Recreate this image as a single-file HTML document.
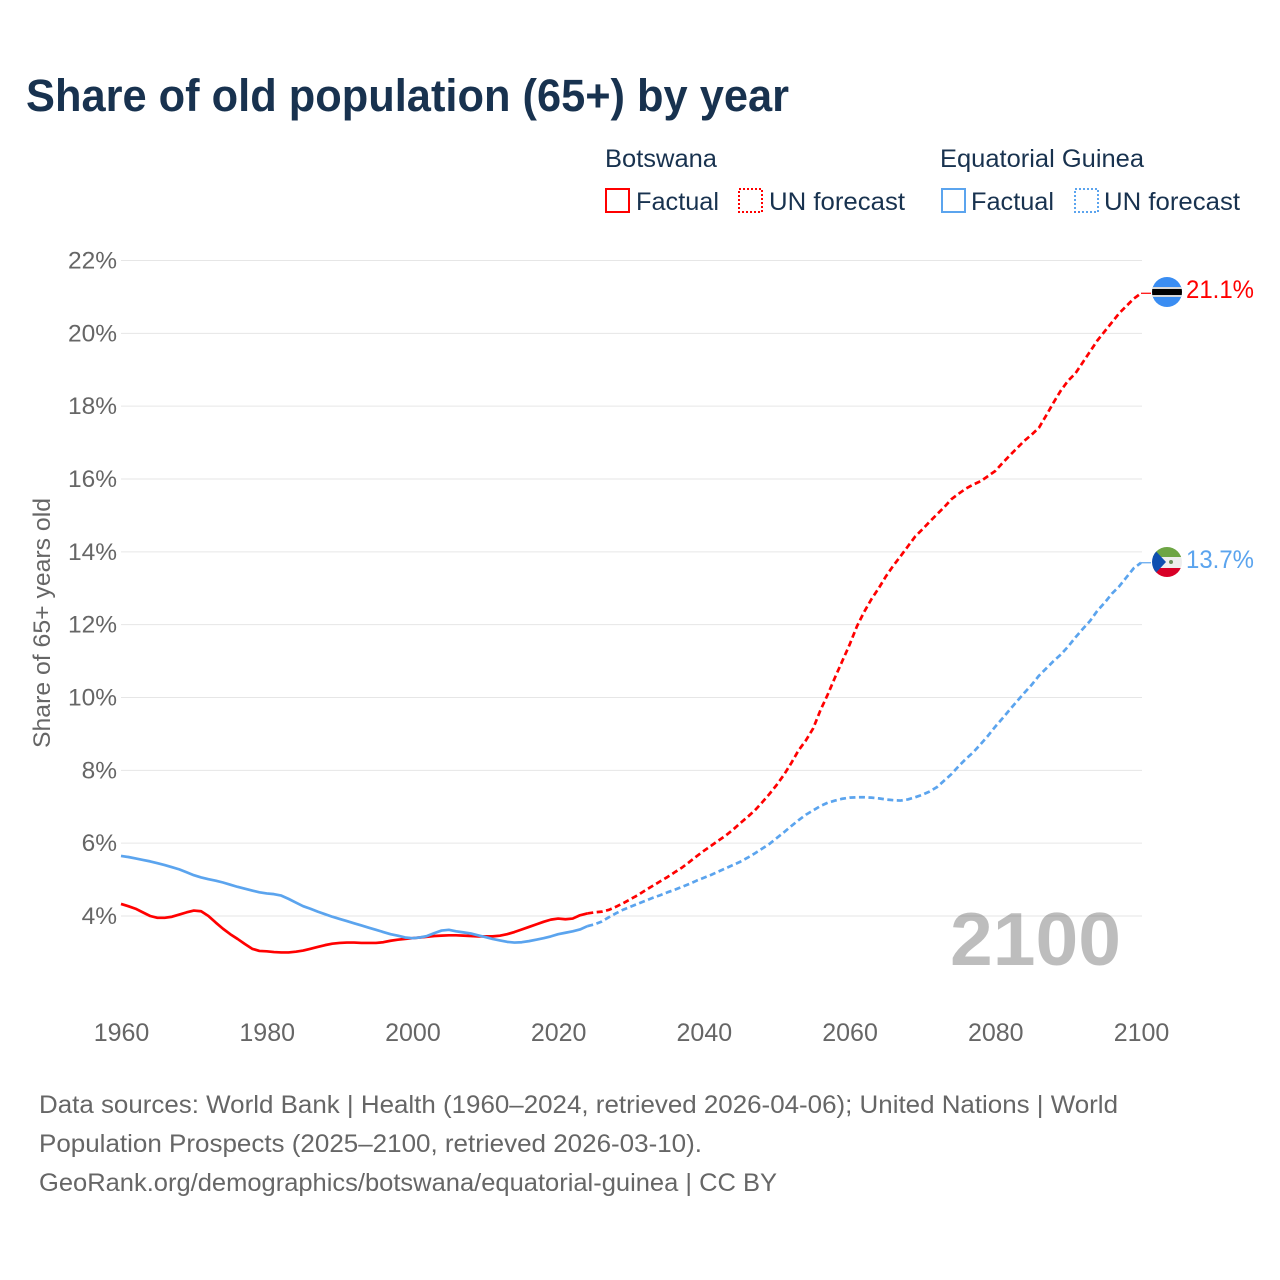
<!DOCTYPE html>
<html lang="en">
<head>
<meta charset="utf-8">
<title>Share of old population (65+) by year</title>
<style>
html,body{margin:0;padding:0;background:#fff;}
svg{display:block;font-family:"Liberation Sans",Arial,sans-serif;}
</style>
</head>
<body>
<svg id="chart" width="1280" height="1280" viewBox="0 0 1280 1280" xmlns="http://www.w3.org/2000/svg">
  <rect width="1280" height="1280" fill="#fff"/>
  <defs>
    <clipPath id="clip-bw"><circle cx="1167" cy="292" r="15"/></clipPath>
    <clipPath id="clip-gq"><circle cx="1167" cy="562" r="15"/></clipPath>
  </defs>

  <text x="26" y="111" font-size="45" font-weight="700" fill="#18324f" textLength="763" lengthAdjust="spacingAndGlyphs">Share of old population (65+) by year</text>

  <g font-size="25" fill="#18324f">
    <text x="605" y="167" textLength="112" lengthAdjust="spacingAndGlyphs">Botswana</text>
    <rect x="606" y="189" width="23" height="23" fill="none" stroke="#ff0000" stroke-width="2"/>
    <text x="636" y="210" textLength="83" lengthAdjust="spacingAndGlyphs">Factual</text>
    <rect x="739" y="189" width="23" height="23" fill="none" stroke="#ff0000" stroke-width="2" stroke-dasharray="2 2"/>
    <text x="769" y="210" textLength="136" lengthAdjust="spacingAndGlyphs">UN forecast</text>

    <text x="940" y="167" textLength="204" lengthAdjust="spacingAndGlyphs">Equatorial Guinea</text>
    <rect x="942" y="189" width="23" height="23" fill="none" stroke="#5ba4ee" stroke-width="2"/>
    <text x="971" y="210" textLength="83" lengthAdjust="spacingAndGlyphs">Factual</text>
    <rect x="1075" y="189" width="23" height="23" fill="none" stroke="#5ba4ee" stroke-width="2" stroke-dasharray="2 2"/>
    <text x="1104" y="210" textLength="136" lengthAdjust="spacingAndGlyphs">UN forecast</text>
  </g>

  <g id="grid"></g>
  <text x="950" y="965" font-size="75" font-weight="700" fill="#000" fill-opacity="0.26" textLength="171" lengthAdjust="spacingAndGlyphs">2100</text>
  <g id="y-ticks" font-size="24.5" fill="#666"></g>
  <g id="x-ticks" font-size="25" fill="#666"></g>
  <text transform="translate(50,748) rotate(-90)" font-size="24" fill="#666" textLength="250" lengthAdjust="spacingAndGlyphs">Share of 65+ years old</text>

  <g id="series"></g>

  <g clip-path="url(#clip-bw)">
    <rect x="1150" y="275" width="34" height="34" fill="#3a8df2"/>
    <rect x="1150" y="287" width="34" height="10" fill="#d8d8d8"/>
    <rect x="1150" y="289" width="34" height="6" fill="#000"/>
  </g>
  <text x="1186" y="298" font-size="25" fill="#ff0000" textLength="68" lengthAdjust="spacingAndGlyphs">21.1%</text>

  <g clip-path="url(#clip-gq)">
    <rect x="1150" y="545" width="34" height="12" fill="#6da544"/>
    <rect x="1150" y="557" width="34" height="11" fill="#eeeeee"/>
    <rect x="1150" y="568" width="34" height="11" fill="#d80027"/>
    <polygon points="1150,545 1152,547 1166,562 1152,577 1150,579" fill="#0f4fb0"/>
    <circle cx="1171" cy="562" r="2" fill="#6a8f5a"/>
  </g>
  <text x="1186" y="568" font-size="25" fill="#5ba4ee" textLength="68" lengthAdjust="spacingAndGlyphs">13.7%</text>

  <g font-size="25" fill="#666">
    <text x="39" y="1113" textLength="1079" lengthAdjust="spacingAndGlyphs">Data sources: World Bank | Health (1960–2024, retrieved 2026-04-06); United Nations | World</text>
    <text x="39" y="1152" textLength="663" lengthAdjust="spacingAndGlyphs">Population Prospects (2025–2100, retrieved 2026-03-10).</text>
    <text x="39" y="1191" textLength="738" lengthAdjust="spacingAndGlyphs">GeoRank.org/demographics/botswana/equatorial-guinea | CC BY</text>
  </g>
</svg>
<script>
const yTickValues = [4, 6, 8, 10, 12, 14, 16, 18, 20, 22];
const xTickValues = [1960, 1980, 2000, 2020, 2040, 2060, 2080, 2100];
const factualStartYear = 1960;
const forecastStartYear = 2024;
const botswanaFactual = [
  4.33,4.27,4.2,4.1,4.0,3.95,3.95,3.98,4.04,4.1,
  4.15,4.13,4.0,3.82,3.65,3.5,3.37,3.23,3.1,3.04,
  3.03,3.01,3.0,3.0,3.02,3.05,3.1,3.15,3.2,3.24,
  3.26,3.27,3.27,3.26,3.26,3.26,3.28,3.32,3.35,3.37,
  3.39,3.41,3.43,3.45,3.46,3.47,3.47,3.46,3.45,3.44,
  3.44,3.44,3.46,3.5,3.56,3.63,3.7,3.77,3.84,3.9,
  3.93,3.91,3.93,4.02,4.07
];
const botswanaForecast = [
  4.07,4.1,4.12,4.17,4.26,4.36,4.47,4.58,4.71,4.83,
  4.95,5.07,5.2,5.33,5.48,5.64,5.79,5.93,6.07,6.21,
  6.37,6.55,6.72,6.9,7.12,7.35,7.6,7.88,8.2,8.55,
  8.82,9.15,9.65,10.08,10.55,11.0,11.45,11.95,12.35,12.7,
  13.0,13.33,13.62,13.88,14.15,14.42,14.62,14.83,15.03,15.23,
  15.45,15.6,15.74,15.85,15.94,16.08,16.22,16.44,16.65,16.85,
  17.05,17.22,17.41,17.75,18.1,18.43,18.7,18.9,19.2,19.5,
  19.8,20.05,20.3,20.55,20.75,20.95,21.1
];
const guineaFactual = [
  5.65,5.62,5.58,5.54,5.5,5.45,5.4,5.34,5.28,5.2,
  5.12,5.06,5.01,4.97,4.92,4.86,4.8,4.75,4.7,4.65,
  4.62,4.6,4.56,4.47,4.37,4.27,4.2,4.12,4.05,3.98,
  3.92,3.86,3.8,3.74,3.68,3.62,3.56,3.5,3.46,3.41,
  3.39,3.41,3.45,3.53,3.6,3.62,3.58,3.55,3.52,3.47,
  3.42,3.37,3.33,3.29,3.27,3.28,3.31,3.35,3.39,3.44,
  3.5,3.54,3.58,3.63,3.72
];
const guineaForecast = [
  3.72,3.77,3.85,3.97,4.08,4.18,4.26,4.34,4.42,4.5,
  4.57,4.65,4.72,4.8,4.88,4.97,5.05,5.13,5.22,5.31,
  5.4,5.49,5.6,5.72,5.85,5.98,6.14,6.3,6.47,6.63,
  6.78,6.9,7.02,7.11,7.17,7.22,7.25,7.26,7.26,7.25,
  7.23,7.2,7.18,7.17,7.2,7.26,7.33,7.42,7.54,7.72,
  7.9,8.12,8.32,8.5,8.72,8.95,9.2,9.43,9.67,9.9,
  10.13,10.35,10.6,10.8,11.0,11.18,11.4,11.65,11.88,12.1,
  12.38,12.6,12.85,13.05,13.3,13.55,13.7
];

const NS = 'http://www.w3.org/2000/svg';
function xScale(year) { return 121 + (year - 1960) * (1141 - 121) / 140; }
function yScale(v) { return 916 - (v - 4) * (916 - 260.5) / 18; }

const gridGroup = document.getElementById('grid');
const yTickGroup = document.getElementById('y-ticks');
yTickValues.forEach(function (v) {
  const line = document.createElementNS(NS, 'line');
  
  
  line.setAttribute('x1', 121);
  line.setAttribute('x2', 1142);
  line.setAttribute('y1', yScale(v));
  line.setAttribute('y2', yScale(v));
  line.setAttribute('stroke', '#e6e6e6');
  line.setAttribute('stroke-width', 1);
  gridGroup.appendChild(line);
  const t = document.createElementNS(NS, 'text');
  
  
  t.setAttribute('x', 117);
  t.setAttribute('y', yScale(v) + 8);
  t.setAttribute('text-anchor', 'end');
  t.textContent = v + '%';
  yTickGroup.appendChild(t);
});

const xTickGroup = document.getElementById('x-ticks');
xTickValues.forEach(function (year) {
  const t = document.createElementNS(NS, 'text');
  
  
  t.setAttribute('x', xScale(year) + 0.5);
  t.setAttribute('y', 1041);
  t.setAttribute('text-anchor', 'middle');
  t.textContent = year;
  xTickGroup.appendChild(t);
});

function pathFrom(values, startYear) {
  return values.map(function (v, i) {
    return (i ? 'L' : 'M') + xScale(startYear + i).toFixed(2) + ' ' + yScale(v).toFixed(2);
  }).join(' ');
}

const seriesGroup = document.getElementById('series');
function drawLine(values, startYear, color, dashed, name) {
  const p = document.createElementNS(NS, 'path');
  
  
  p.setAttribute('d', pathFrom(values, startYear));
  p.setAttribute('fill', 'none');
  p.setAttribute('stroke', color);
  p.setAttribute('stroke-width', 2.7);
  p.setAttribute('stroke-linejoin', 'round');
  if (dashed) { p.setAttribute('stroke-dasharray', '6 3.5'); }
  seriesGroup.appendChild(p);
}
function drawConnector(lastValue, color, name) {
  const c = document.createElementNS(NS, 'line');
  
  
  c.setAttribute('x1', xScale(2100));
  c.setAttribute('x2', xScale(2100) + 10);
  c.setAttribute('y1', yScale(lastValue));
  c.setAttribute('y2', yScale(lastValue));
  c.setAttribute('stroke', color);
  c.setAttribute('stroke-width', 1.2);
  seriesGroup.appendChild(c);
}
drawLine(botswanaForecast, forecastStartYear, '#ff0000', true, 'botswana-forecast-line');
drawLine(botswanaFactual, factualStartYear, '#ff0000', false, 'botswana-factual-line');
drawLine(guineaForecast, forecastStartYear, '#5ba4ee', true, 'guinea-forecast-line');
drawLine(guineaFactual, factualStartYear, '#5ba4ee', false, 'guinea-factual-line');
drawConnector(botswanaForecast[botswanaForecast.length - 1], '#ff0000', 'botswana-label-connector');
drawConnector(guineaForecast[guineaForecast.length - 1], '#5ba4ee', 'guinea-label-connector');
</script>
</body>
</html>
